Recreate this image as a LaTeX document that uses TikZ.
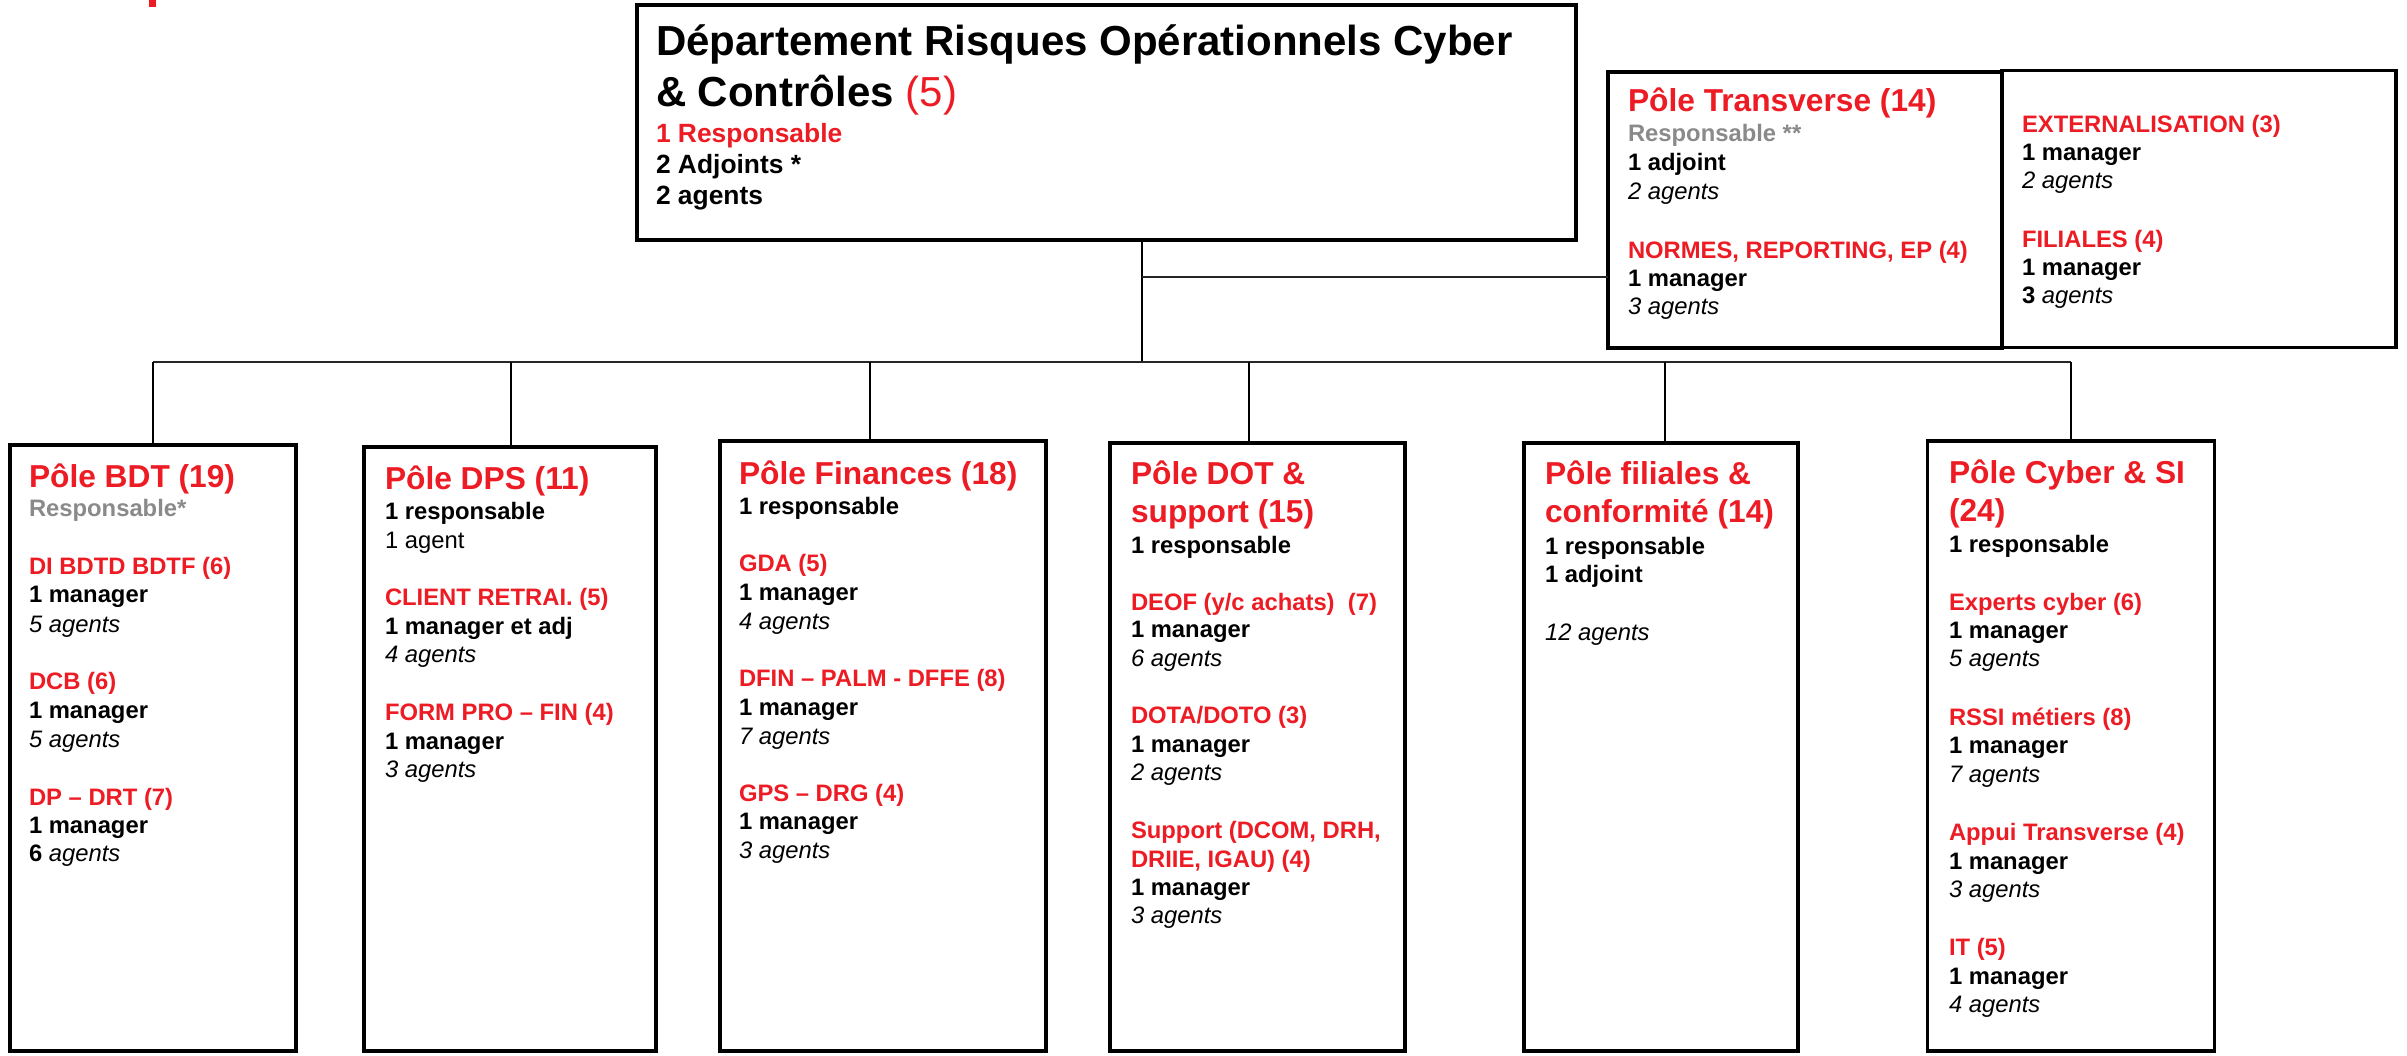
\documentclass[tikz,border=0pt]{standalone}
\usepackage{fontspec}
\setmainfont{Liberation Sans}
\definecolor{rred}{RGB}{237,28,36}
\definecolor{rgrey}{RGB}{138,138,138}
\tikzset{
  orgbox/.style={draw=black, line width=3.6pt, fill=white, inner sep=0pt, outer sep=0pt, anchor=north west},
  link/.style={draw=black, line width=1.4pt},
  buslink/.style={draw=black!85, line width=2.6pt},
  txt/.style={anchor=base west, inner sep=0pt, outer sep=0pt},
  headA/.style={txt, font=\fontsize{42}{50}\selectfont\bfseries},
  bodyA/.style={txt, font=\fontsize{26.4}{31}\selectfont\bfseries},
  pole/.style={txt, font=\fontsize{31.7}{37}\selectfont\bfseries, text=rred},
  unit/.style={txt, font=\fontsize{23.8}{28.7}\selectfont\bfseries, text=rred},
  mgr/.style={txt, font=\fontsize{23.8}{28.7}\selectfont\bfseries},
  staff/.style={txt, font=\fontsize{23.8}{28.7}\selectfont\itshape},
  plain/.style={txt, font=\fontsize{23.8}{28.7}\selectfont},
  vacant/.style={txt, font=\fontsize{23.8}{28.7}\selectfont\bfseries, text=rgrey},
}
\begin{document}
\begin{tikzpicture}[x=1pt, y=-1pt]
\useasboundingbox (0,0) rectangle (2407,1055);

% clipped glyph at the upper edge
\fill[rred] (148.5,0) rectangle (156,6.5);

% boxes
\node[orgbox, minimum width=939pt, minimum height=235pt] (dept) at (637,5) {};
\node[orgbox, minimum width=394pt, minimum height=276pt] (trans) at (1608,72) {};
\node[orgbox, minimum width=394pt, minimum height=277pt] (ext) at (2002,70.5) {};
\node[orgbox, minimum width=286pt, minimum height=606pt] (bdt) at (10,445) {};
\node[orgbox, minimum width=292pt, minimum height=604pt] (dps) at (364,447) {};
\node[orgbox, minimum width=326pt, minimum height=610pt] (fin) at (720,441) {};
\node[orgbox, minimum width=295pt, minimum height=608pt] (dot) at (1110,443) {};
\node[orgbox, minimum width=274pt, minimum height=608pt] (fil) at (1524,443) {};
\node[orgbox, minimum width=287pt, minimum height=610pt] (cyb) at (1927.5,441) {};

% connectors
\coordinate (hub) at (1142,362);
\coordinate (fork) at (1142,277);
\coordinate (b1) at (153,362);
\coordinate (b2) at (511,362);
\coordinate (b3) at (870,362);
\coordinate (b4) at (1249,362);
\coordinate (b5) at (1665,362);
\coordinate (b6) at (2071,362);
\draw[link] (dept.south -| hub) -- (hub);
\draw[buslink] (fork) -- (fork -| trans.west);
\draw[buslink] (b1) -- (b6);
\draw[link] (b1) -- (b1 |- bdt.north);
\draw[link] (b2) -- (b2 |- dps.north);
\draw[link] (b3) -- (b3 |- fin.north);
\draw[link] (b4) -- (b4 |- dot.north);
\draw[link] (b5) -- (b5 |- fil.north);
\draw[link] (b6) -- (b6 |- cyb.north);

% department
\node[headA] (dept-t1) at (656,55) {Département Risques Opérationnels Cyber};
\node[headA] (dept-t2) at (656,106) {\& Contrôles {\mdseries\color{rred}(5)}};
\node[bodyA, text=rred] (dept-r) at (656,142) {1 Responsable};
\node[bodyA] (dept-a) at (656,173) {2 Adjoints *};
\node[bodyA] (dept-g) at (656,204) {2 agents};

% transverse
\node[pole] (tr-t) at (1628,111) {Pôle Transverse (14)};
\node[vacant] (tr-r) at (1628,141) {Responsable **};
\node[mgr] (tr-a) at (1628,170) {1 adjoint};
\node[staff] (tr-g) at (1628,199) {2 agents};
\node[unit] (tr-u1) at (1628,258) {NORMES, REPORTING, EP (4)};
\node[mgr] (tr-m1) at (1628,286) {1 manager};
\node[staff] (tr-g1) at (1628,314) {3 agents};

\node[unit] (ex-u1) at (2022,132) {EXTERNALISATION (3)};
\node[mgr] (ex-m1) at (2022,160) {1 manager};
\node[staff] (ex-g1) at (2022,188) {2 agents};
\node[unit] (ex-u2) at (2022,247) {FILIALES (4)};
\node[mgr] (ex-m2) at (2022,275) {1 manager};
\node[staff] (ex-g2) at (2022,303) {{\bfseries\upshape 3} agents};

% BDT
\node[pole] (bdt-t) at (29,487.5) {Pôle BDT (19)};
\node[vacant] (bdt-r) at (29,516) {Responsable*};
\node[unit] (bdt-u1) at (29,574) {DI BDTD BDTF (6)};
\node[mgr] (bdt-m1) at (29,602.5) {1 manager};
\node[staff] (bdt-g1) at (29,632) {5 agents};
\node[unit] (bdt-u2) at (29,689.5) {DCB (6)};
\node[mgr] (bdt-m2) at (29,718) {1 manager};
\node[staff] (bdt-g2) at (29,747.5) {5 agents};
\node[unit] (bdt-u3) at (29,805) {DP – DRT (7)};
\node[mgr] (bdt-m3) at (29,833) {1 manager};
\node[staff] (bdt-g3) at (29,861) {{\bfseries\upshape 6} agents};

% DPS
\node[pole] (dps-t) at (385,489.5) {Pôle DPS (11)};
\node[mgr] (dps-r) at (385,519) {1 responsable};
\node[plain] (dps-a) at (385,548) {1 agent};
\node[unit] (dps-u1) at (385,605.5) {CLIENT RETRAI. (5)};
\node[mgr] (dps-m1) at (385,634.5) {1 manager et adj};
\node[staff] (dps-g1) at (385,662.5) {4 agents};
\node[unit] (dps-u2) at (385,720.5) {FORM PRO – FIN (4)};
\node[mgr] (dps-m2) at (385,749.5) {1 manager};
\node[staff] (dps-g2) at (385,777.5) {3 agents};

% Finances
\node[pole] (fin-t) at (739,484) {Pôle Finances (18)};
\node[mgr] (fin-r) at (739,514) {1 responsable};
\node[unit] (fin-u1) at (739,571.5) {GDA (5)};
\node[mgr] (fin-m1) at (739,600.5) {1 manager};
\node[staff] (fin-g1) at (739,629.5) {4 agents};
\node[unit] (fin-u2) at (739,686) {DFIN – PALM - DFFE (8)};
\node[mgr] (fin-m2) at (739,715) {1 manager};
\node[staff] (fin-g2) at (739,744.5) {7 agents};
\node[unit] (fin-u3) at (739,801) {GPS – DRG (4)};
\node[mgr] (fin-m3) at (739,829.5) {1 manager};
\node[staff] (fin-g3) at (739,858.5) {3 agents};

% DOT & support
\node[pole] (dot-t1) at (1131,484.7) {Pôle DOT \&};
\node[pole] (dot-t2) at (1131,522) {support (15)};
\node[mgr] (dot-r) at (1131,553.6) {1 responsable};
\node[unit] (dot-u1) at (1131,610) {DEOF (y/c achats)\ \ (7)};
\node[mgr] (dot-m1) at (1131,637.5) {1 manager};
\node[staff] (dot-g1) at (1131,666.5) {6 agents};
\node[unit] (dot-u2) at (1131,723.5) {DOTA/DOTO (3)};
\node[mgr] (dot-m2) at (1131,752.5) {1 manager};
\node[staff] (dot-g2) at (1131,780.5) {2 agents};
\node[unit] (dot-u3a) at (1131,838.5) {Support (DCOM, DRH,};
\node[unit] (dot-u3b) at (1131,867) {DRIIE, IGAU) (4)};
\node[mgr] (dot-m3) at (1131,895.5) {1 manager};
\node[staff] (dot-g3) at (1131,923.5) {3 agents};

% filiales & conformite
\node[pole] (fil-t1) at (1545,484.7) {Pôle filiales \&};
\node[pole] (fil-t2) at (1545,522) {conformité (14)};
\node[mgr] (fil-r) at (1545,554) {1 responsable};
\node[mgr] (fil-a) at (1545,582.5) {1 adjoint};
\node[staff] (fil-g) at (1545,640) {12 agents};

% Cyber & SI
\node[pole] (cyb-t1) at (1949,483) {Pôle Cyber \& SI};
\node[pole] (cyb-t2) at (1949,521) {(24)};
\node[mgr] (cyb-r) at (1949,552) {1 responsable};
\node[unit] (cyb-u1) at (1949,610) {Experts cyber (6)};
\node[mgr] (cyb-m1) at (1949,638) {1 manager};
\node[staff] (cyb-g1) at (1949,666.5) {5 agents};
\node[unit] (cyb-u2) at (1949,725) {RSSI métiers (8)};
\node[mgr] (cyb-m2) at (1949,753.5) {1 manager};
\node[staff] (cyb-g2) at (1949,782) {7 agents};
\node[unit] (cyb-u3) at (1949,840.5) {Appui Transverse (4)};
\node[mgr] (cyb-m3) at (1949,869) {1 manager};
\node[staff] (cyb-g3) at (1949,897.5) {3 agents};
\node[unit] (cyb-u4) at (1949,955.5) {IT (5)};
\node[mgr] (cyb-m4) at (1949,984) {1 manager};
\node[staff] (cyb-g4) at (1949,1012.5) {4 agents};
\end{tikzpicture}
\end{document}
